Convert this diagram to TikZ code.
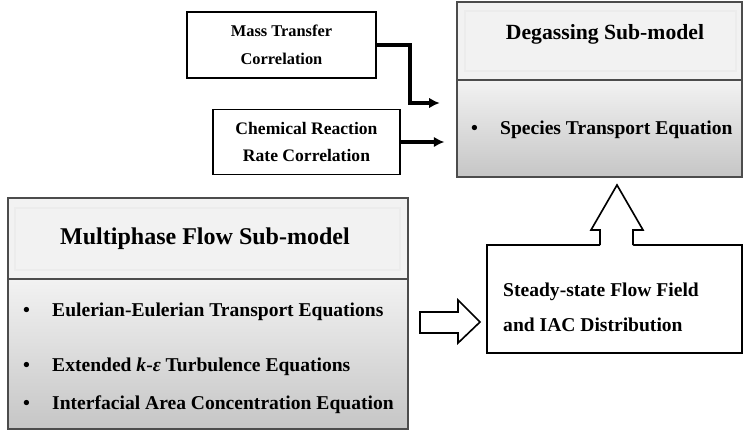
\documentclass[tikz,border=0pt]{standalone}
\usepackage{fontspec}
\setmainfont{Liberation Serif}
\usetikzlibrary{arrows.meta}
\tikzset{
  plainbox/.style={draw, line width=1.4pt, inner sep=0pt, align=center,
    font=\bfseries\fontsize{14}{24}\selectfont},
  headbox/.style={draw=black!70, line width=1pt, fill=gray!10, inner sep=0pt},
  bodybox/.style={draw=black!70, line width=1pt, top color=gray!10,
    bottom color=gray!45, inner sep=0pt},
  inframe/.style={draw=gray!75, line width=0.5pt, double=gray!15, double distance=1pt},
  feed/.style={line width=2.6pt, -{Latex[length=9pt,width=9pt]}},
  hollow/.style={line width=1.4pt, line join=miter},
  item/.style={anchor=west, inner sep=0pt, font=\bfseries\fontsize{16.7}{20}\selectfont},
}
\begin{document}
\begin{tikzpicture}[x=0.03cm,y=-0.03cm]
\useasboundingbox (0,0) rectangle (744,436);
% inputs
\node[plainbox, minimum width=5.67cm, minimum height=1.98cm] (mass) at (281.5,45)
  {Mass Transfer\\Correlation};
\node[plainbox, minimum width=5.61cm, minimum height=1.95cm,
  font=\bfseries\fontsize{15}{23}\selectfont] (chem) at (306.5,142)
  {Chemical Reaction\\Rate Correlation};
% degassing sub-model
\node[headbox, minimum width=8.55cm, minimum height=2.34cm] (degashead) at (599.5,41) {};
\draw[inframe] (465,11) rectangle (736,71);
\node[inner sep=0pt, font=\bfseries\fontsize{18.5}{22}\selectfont] (degastitle) at (605,34)
  {Degassing Sub-model};
\node[bodybox, minimum width=8.55cm, minimum height=2.91cm] (degasbody) at (599.5,128.5) {};
\node[item] (degasdot) at (471,130) {\textbullet};
\node[item] (species) at (500,130) {Species Transport Equation};
% multiphase sub-model
\node[headbox, minimum width=12cm, minimum height=2.43cm] (multihead) at (208,238.5) {};
\draw[inframe] (15,208) rectangle (400,270);
\node[inner sep=0pt, font=\bfseries\fontsize{20.5}{24}\selectfont] (multititle) at (205,239)
  {Multiphase Flow Sub-model};
\node[bodybox, minimum width=12cm, minimum height=4.5cm] (multibody) at (208,354) {};
\foreach \y/\t in {312/Eulerian-Eulerian Transport Equations,
                   367/Extended \textit{k}-\textit{ε} Turbulence Equations,
                   405/Interfacial Area Concentration Equation}
{
\node[item] at (23,\y) {\textbullet};
\node[item] at (52,\y) {\t};
}
% result
\node[draw, line width=1.4pt, minimum width=7.65cm, minimum height=3.24cm] (steady) at (614.5,299) {};
\node[item, align=left, font=\bfseries\fontsize{16.7}{30}\selectfont] (steadytext) at (503,307.5)
  {Steady-state Flow Field\\and IAC Distribution};
% connectors
\coordinate (bend) at (410,103);
\draw[feed, shorten >=0.5cm] (mass.east) -| (bend) -- (bend -| degasbody.west);
\draw[feed, shorten >=0.36cm] (chem.east) -- (chem.east -| degasbody.west);
\draw[hollow, fill=white] (420,312) -- (458,312) -- (458,300) -- (480,322)
  -- (458,343) -- (458,333) -- (420,333) -- cycle;
\fill[white] (600,247) -- (600,230) -- (591,230) -- (617,185) -- (643,230)
  -- (633,230) -- (633,247) -- cycle;
\draw[hollow] (600,245) -- (600,230) -- (591,230) -- (617,185) -- (643,230)
  -- (633,230) -- (633,245);
\end{tikzpicture}
\end{document}
